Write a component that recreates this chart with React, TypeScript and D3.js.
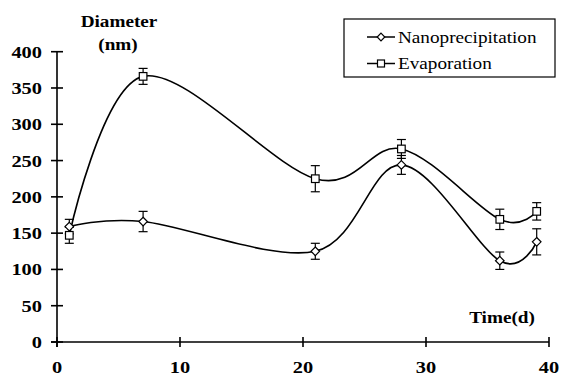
import React from 'react';
import * as d3 from 'd3';

const days = [1, 7, 21, 28, 36, 39];
const nanoValues = [159, 166, 125, 244, 112, 138];
const nanoErrors = [10, 14, 11, 13, 12, 18];
const evapValues = [147, 366, 225, 266, 169, 180];
const evapErrors = [11, 11, 18, 13, 14, 12];
const xTicks = [0, 10, 20, 30, 40];
const yTicks = [0, 50, 100, 150, 200, 250, 300, 350, 400];
const seriesNames = ['Nanoprecipitation', 'Evaporation'];

const FONT = "'Liberation Serif', 'Times New Roman', serif";
const SX = 1.2;

function STxt({ x, y, anchor = 'start', bold = false, size = 16, children }: any) {
  return (
    <text
      transform={`translate(${x},${y}) scale(${SX},1)`}
      textAnchor={anchor}
      style={{ fontFamily: FONT, fontWeight: bold ? 700 : 400, fontSize: size }}
      fill="#000"
    >
      {children}
    </text>
  );
}

const diamond = (r: number) => `M0,${-r}L${r},0L0,${r}L${-r},0Z`;

export default function App() {
  const W = 568, H = 379;
  const x = d3.scaleLinear().domain([0, 40]).range([57, 549]);
  const y = d3.scaleLinear().domain([0, 400]).range([342, 51.7]);
  const line = d3
    .line<[number, number]>()
    .x((d) => x(d[0]))
    .y((d) => y(d[1]))
    .curve(d3.curveCardinal.tension(0));

  const nanoPts = days.map((d, i) => [d, nanoValues[i]] as [number, number]);
  const evapPts = days.map((d, i) => [d, evapValues[i]] as [number, number]);

  const errBars = (vals: number[], errs: number[], key: string) =>
    days.map((d, i) => {
      const cx = x(d);
      const y1 = y(vals[i] + errs[i]);
      const y2 = y(vals[i] - errs[i]);
      return (
        <g key={key + i} stroke="#000" strokeWidth={1.2}>
          <line x1={cx} x2={cx} y1={y1} y2={y2} />
          <line x1={cx - 4.5} x2={cx + 4.5} y1={y1} y2={y1} />
          <line x1={cx - 4.5} x2={cx + 4.5} y1={y2} y2={y2} />
        </g>
      );
    });

  return (
    <svg width={W} height={H} style={{ position: 'absolute', left: 0, top: 0, background: '#fff' }}>
      <rect x={0} y={0} width={W} height={H} fill="#fff" />
      <g stroke="#000" strokeWidth={1.6}>
        <line x1={x(0)} x2={x(0)} y1={y(0) + 5} y2={y(400)} />
        <line x1={x(0) - 6} x2={x(40)} y1={y(0)} y2={y(0)} />
        {yTicks.map((t) => (
          <line key={'yt' + t} x1={x(0) - 6} x2={x(0) + 6} y1={y(t)} y2={y(t)} />
        ))}
        {xTicks.map((t) => (
          <line key={'xt' + t} x1={x(t)} x2={x(t)} y1={y(0) - 5} y2={y(0) + 5} />
        ))}
      </g>
      {yTicks.map((t) => (
        <STxt key={'yl' + t} x={42} y={y(t) + 6} anchor="end" bold size={17}>
          {t}
        </STxt>
      ))}
      {xTicks.map((t) => (
        <STxt key={'xl' + t} x={x(t)} y={373} anchor="middle" bold size={17}>
          {t}
        </STxt>
      ))}
      <STxt x={119} y={27} anchor="middle" bold>Diameter</STxt>
      <STxt x={118} y={50} anchor="middle" bold>(nm)</STxt>
      <STxt x={502} y={323} anchor="middle" bold>Time(d)</STxt>

      <path d={line(evapPts) || ''} fill="none" stroke="#000" strokeWidth={1.6} />
      <path d={line(nanoPts) || ''} fill="none" stroke="#000" strokeWidth={1.6} />
      {errBars(evapValues, evapErrors, 'e')}
      {errBars(nanoValues, nanoErrors, 'n')}
      {evapPts.map((p, i) => (
        <rect key={'es' + i} x={x(p[0]) - 3.8} y={y(p[1]) - 3.8} width={7.6} height={7.6} fill="#fff" stroke="#000" strokeWidth={1.2} />
      ))}
      {nanoPts.map((p, i) => (
        <path key={'nd' + i} d={diamond(4.3)} transform={`translate(${x(p[0])},${y(p[1])})`} fill="#fff" stroke="#000" strokeWidth={1.2} />
      ))}

      <rect x={344} y={19} width={211} height={58} fill="#fff" stroke="#000" strokeWidth={1.2} />
      <line x1={367} x2={395} y1={37} y2={37} stroke="#000" strokeWidth={1.5} />
      <path d={diamond(3.8)} transform="translate(381,37)" fill="#fff" stroke="#000" strokeWidth={1.2} />
      <STxt x={398} y={42.5}>{seriesNames[0]}</STxt>
      <line x1={367} x2={395} y1={63.5} y2={63.5} stroke="#000" strokeWidth={1.5} />
      <rect x={377.5} y={60} width={7} height={7} fill="#fff" stroke="#000" strokeWidth={1.2} />
      <STxt x={398} y={69}>{seriesNames[1]}</STxt>
    </svg>
  );
}
